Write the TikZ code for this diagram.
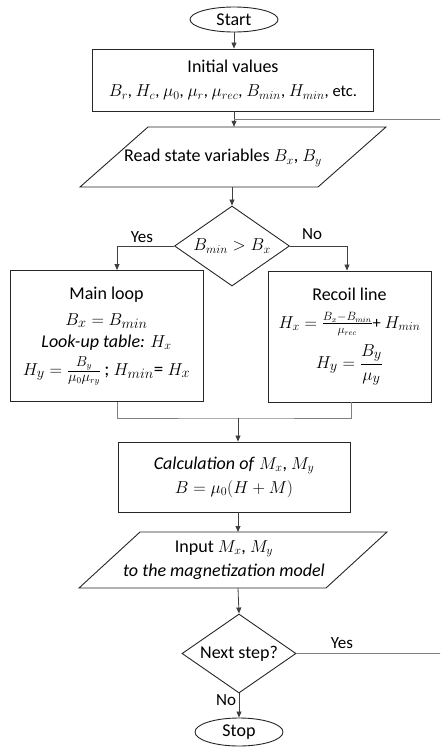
\documentclass[tikz,border=0pt]{standalone}
\usepackage{amsmath}
\usepackage{fontspec}
\setmainfont{Carlito}
\usetikzlibrary{arrows.meta,shapes.geometric}
\newcommand{\fs}[1]{\fontsize{#1}{1.2\dimexpr #1pt\relax}\selectfont}
\begin{document}
\begin{tikzpicture}[x=1pt,y=-1pt,
  every node/.style={font=\fontsize{18}{21}\selectfont},
  shp/.style={draw=black!85, line width=0.9pt},
  box/.style={shp, align=center, inner sep=0pt},
  txt/.style={align=center, inner sep=0pt},
  lab/.style={inner sep=0pt, font=\fontsize{17}{20}\selectfont},
  arr/.style={draw=black!75, line width=0.8pt, -{Triangle[length=6pt,width=5pt]}},
  ln/.style={draw=black!75, line width=0.8pt},
  lnl/.style={draw=black!50, line width=0.8pt}]
\useasboundingbox (0,0) rectangle (440,750);
\clip (0,0) rectangle (440,750);
% shapes
\node[box, ellipse, minimum width=88, minimum height=25] (start) at (234,19.5) {Start};
\node[box, minimum width=281, minimum height=62] (init) at (233,80)
  {Initial values\\[3pt] {\fs{16.5}$B_r$, $H_c$, $\mu_0$, $\mu_r$, $\mu_{rec}$, $B_{min}$, $H_{min}$, etc.}};
\coordinate (jt) at (234,119);
\draw[shp] (80,187) -- (318,187) -- (386,127) -- (148,127) -- cycle;
\node[txt, minimum height=60] (read) at (233,157) {};
\node[txt] (readt) at (223,158) {Read state variables $B_x$, $B_y$};
\node[box, diamond, shape aspect=1.44, minimum width=115, minimum height=80] (d1) at (232,246)
  {$B_{min} > B_x$};
\node[box, minimum width=193, minimum height=131] (main) at (106.5,336)
  {Main loop\\[5pt] {\fs{19}$B_x = B_{min}$}\\[1pt] \textit{Look-up table:} $H_x$\\[5pt]
   {\fs{19}$H_y = \frac{B_y}{\mu_0\mu_{ry}}$\,; $H_{min}$= $H_x$}};
\node[box, minimum width=163, minimum height=131] (recoil) at (349.5,336.5)
  {Recoil line\\[7pt] {\fs{16.5}$H_x = \frac{B_x - B_{min}}{\mu_{rec}}$+ $H_{min}$}\\[7pt]
   {\fs{19}$H_y = \dfrac{B_y}{\mu_y}$}};
\coordinate (j2) at (238,418);
\node[box, minimum width=232, minimum height=70] (calc) at (234,477)
  {\textit{Calculation of} $M_x$, $M_y$\\[3pt] $B = \mu_0(H + M)$};
\draw[shp] (79,588) -- (326,588) -- (387,532) -- (140,532) -- cycle;
\node[txt, minimum height=56] (inp) at (233,560) {};
\node[txt] (inpt) at (224,560) {Input $M_x$, $M_y$\\[3pt] \textit{to the magnetization model}};
\node[box, diamond, shape aspect=1.44, minimum width=114, minimum height=79] (d2) at (239,653.5)
  {Next step?};
\node[box, ellipse, minimum width=88, minimum height=28] (stop) at (239,732) {Stop};
% connectors
\draw[arr] (start.south) -- (start.south |- init.north);
\draw[arr] (jt |- init.south) -- (jt |- read.north);
\draw[lnl] (d2.east) -- (470,653.5) -- (470,119) -- (jt);
\draw[arr] (232,187) -- (d1.north);
\draw[arr] (d1.west) -| ([xshift=10.5]main.north);
\draw[arr] (d1.east) -| ([xshift=-2.5]recoil.north);
\draw[lnl] ([xshift=11]main.south) |- (j2) -| ([xshift=1.5]recoil.south);
\draw[arr] (j2) -- (j2 |- calc.north);
\draw[arr] ([xshift=4]calc.south) -- (238,532);
\draw[arr] (238,588) -- (d2.north);
\draw[arr] (d2.south) -- (stop.north);
% labels
\node[lab] (ly1) at (142,237) {Yes};
\node[lab] (ln1) at (312,234) {No};
\node[lab] (ly2) at (342,643) {Yes};
\node[lab] (ln2) at (226,700) {No};
\end{tikzpicture}
\end{document}
